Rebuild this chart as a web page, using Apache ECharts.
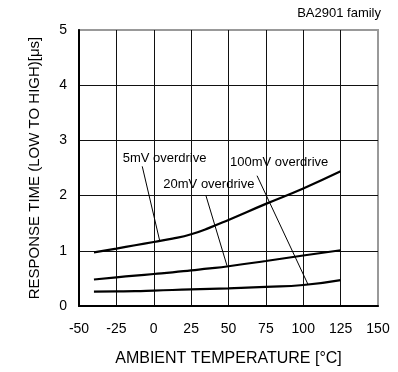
<!DOCTYPE html>
<html>
<head>
<meta charset="utf-8">
<script src="https://cdn.jsdelivr.net/npm/echarts@6/dist/echarts.min.js"></script>
<style>
  html, body { margin: 0; padding: 0; background: #fff; }
  #chart { width: 398px; height: 372px; }
</style>
</head>
<body>
<div id="chart"></div>
<script>
// Ambient temperature points (°C)
const temps = [-40, -25, -12.5, 0, 12.5, 25, 37.5, 50, 75, 100, 125];
// Response time, low to high (µs)
const od5mV   = [0.97, 1.04, 1.10, 1.16, 1.22, 1.30, 1.42, 1.56, 1.85, 2.13, 2.44];
const od20mV  = [0.48, 0.52, 0.55, 0.58, 0.61, 0.645, 0.68, 0.72, 0.815, 0.915, 1.01];
const od100mV = [0.26, 0.265, 0.27, 0.28, 0.29, 0.30, 0.31, 0.32, 0.345, 0.38, 0.47];

// Callouts: label anchor (left, middle) and leader line in data units
const callouts = [
  { text: '5mV overdrive',   at: [-20.8, 2.68], from: [-7.7, 2.53], to: [4, 1.18] },
  { text: '20mV overdrive',  at: [6.4, 2.20],   from: [34.9, 2.0],  to: [49, 0.73] },
  { text: '100mV overdrive', at: [51, 2.61],    from: [69.1, 2.36], to: [103.2, 0.39] }
];

const FONT = 'Liberation Sans, Arial, sans-serif';
const pair = (xs, ys) => xs.map((x, i) => [x, ys[i]]);

const chart = echarts.init(document.getElementById('chart'), null, { renderer: 'canvas' });

const curve = (name, vals) => ({
  name, type: 'line', data: pair(temps, vals), smooth: 0.5,
  symbol: 'none', lineStyle: { color: '#000', width: 2.2 }, z: 5
});

const titleText = {
  type: 'text', right: 17, top: 7,
  style: { text: 'BA2901 family', fill: '#000', font: '13px ' + FONT }
};

chart.setOption({
  animation: false,
  grid: {
    left: 79, right: 20, top: 30, bottom: 62, containLabel: false,
    show: true, borderColor: '#999', borderWidth: 2, backgroundColor: 'transparent'
  },
  xAxis: {
    type: 'value', min: -50, max: 150, interval: 25,
    axisLine: { show: true, onZero: false, lineStyle: { color: '#000', width: 2 } },
    axisTick: { show: false },
    axisLabel: { color: '#000', fontSize: 14, fontFamily: FONT, margin: 16 },
    splitLine: { show: true, showMinLine: false, showMaxLine: false, lineStyle: { color: '#111', width: 1 } },
    name: 'AMBIENT TEMPERATURE [°C]', nameLocation: 'middle', nameGap: 45,
    nameTextStyle: { color: '#000', fontSize: 16, fontFamily: FONT }
  },
  yAxis: {
    type: 'value', min: 0, max: 5, interval: 1,
    axisLine: { show: true, onZero: false, lineStyle: { color: '#000', width: 2 } },
    axisTick: { show: false },
    axisLabel: { color: '#000', fontSize: 14, fontFamily: FONT, margin: 12 },
    splitLine: { show: true, showMinLine: false, showMaxLine: false, lineStyle: { color: '#111', width: 1 } },
    name: 'RESPONSE TIME (LOW TO HIGH)[μs]', nameLocation: 'middle', nameGap: 37,
    nameTextStyle: { color: '#000', fontSize: 15, fontFamily: FONT }
  },
  series: [curve('5mV overdrive', od5mV), curve('20mV overdrive', od20mV), curve('100mV overdrive', od100mV)],
  graphic: [titleText]
});

// Callout labels and leader lines placed through the grid's coordinate system
const toPx = p => chart.convertToPixel({ gridIndex: 0 }, p);
const extra = [];
callouts.forEach(c => {
  const a = toPx(c.at), f = toPx(c.from), t = toPx(c.to);
  extra.push({
    type: 'text', x: a[0], y: a[1], z: 10,
    style: { text: c.text, fill: '#000', font: '13px ' + FONT, verticalAlign: 'middle' }
  });
  extra.push({
    type: 'line', z: 10,
    shape: { x1: f[0], y1: f[1], x2: t[0], y2: t[1] },
    style: { stroke: '#000', lineWidth: 1 }
  });
});
chart.setOption({ graphic: [titleText].concat(extra) });
</script>
</body>
</html>
